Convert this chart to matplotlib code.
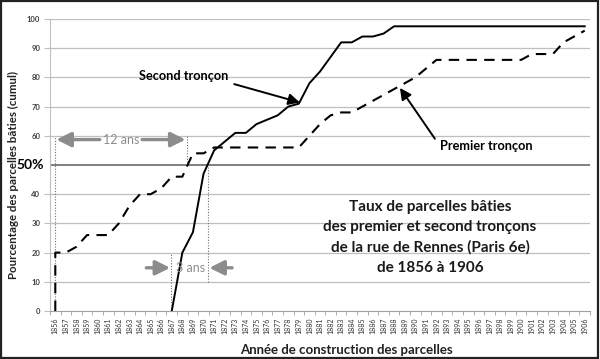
import matplotlib
matplotlib.use("Agg")
import matplotlib.pyplot as plt
from matplotlib.patches import Rectangle

# ---- data ----
years = list(range(1856, 1907))

premier_years = [1856] + years
premier_vals = [0,
                20, 20, 22, 26, 26, 26, 30, 36, 40, 40,      # 1856-1865
                42, 46, 46, 54, 54, 56, 56, 56, 56, 56,      # 1866-1875
                56, 56, 56, 56, 60, 64, 67, 68, 68, 70,      # 1876-1885
                72, 74, 76, 78, 80, 83, 86, 86, 86, 86,      # 1886-1895
                86, 86, 86, 86, 86, 88, 88, 88, 92, 94,      # 1896-1905
                96]                                          # 1906

second_years = list(range(1867, 1907))
second_vals = [0, 20, 27,                                    # 1867-1869
               47, 55, 58, 61, 61, 64, 65.5, 67, 70, 71,     # 1870-1879
               78, 82, 87, 92, 92, 94, 94, 95, 97.5, 97.5,   # 1880-1889
               97.5, 97.5, 97.5, 97.5, 97.5, 97.5, 97.5, 97.5, 97.5, 97.5,  # 1890-1899
               97.5, 97.5, 97.5, 97.5, 97.5, 97.5, 97.5]     # 1900-1906

y_ticks = [0, 10, 20, 30, 40, 60, 70, 80, 90, 100]
title_lines = ["Taux de parcelles bâties",
               "des premier et second tronçons",
               "de la rue de Rennes (Paris 6e)",
               "de 1856 à 1906"]

FONT = ["Lato", "DejaVu Sans"]
plt.rcParams['font.family'] = FONT

fig = plt.figure(figsize=(6.0, 3.59), dpi=100)
ax = fig.add_axes([50/600, 1 - 311/359, 540/600, 292/359])
ax.set_xlim(1855.5, 1906.5)
ax.set_ylim(0, 100)

# grid
for v in range(10, 101, 10):
    if v == 50:
        ax.axhline(v, color="#7f7f7f", lw=1.4, zorder=1)
    else:
        ax.axhline(v, color="#bfbfbf", lw=0.9, zorder=1)

# series
ax.plot(premier_years, premier_vals, color="black", lw=1.5,
        linestyle=(0, (5, 3.5)), zorder=3)
ax.plot(second_years, second_vals, color="black", lw=1.4, zorder=3)

# spines & ticks
for s in ["top", "right"]:
    ax.spines[s].set_visible(False)
ax.spines["left"].set_color("#bfbfbf")
ax.spines["bottom"].set_color("#a0a0a0")
ax.set_yticks(y_ticks)
ax.set_yticklabels([str(v) for v in y_ticks], fontsize=5.5, fontweight="bold",
                   color="#404040")
ax.tick_params(axis="y", length=4, color="#bfbfbf", pad=3)
ax.set_xticks(years)
ax.set_xticklabels([str(y) for y in years], rotation=90, fontsize=5,
                   color="#333333")
ax.set_xticks([y + 0.5 for y in [1855] + years], minor=True)
ax.tick_params(axis="x", which="major", length=0, pad=5)
ax.tick_params(axis="x", which="minor", length=3, color="#a0a0a0")

ax.text(-0.012, 50, "50%", transform=ax.get_yaxis_transform(), ha="right",
        va="center", fontsize=10, fontweight="bold", color="black")

fig.text(13/600, 1 - 175/359, "Pourcentage des parcelles bâties (cumul)",
         rotation=90, ha="center", va="center", fontsize=8.3,
         fontweight="bold", color="#222222")
fig.text(346/600, 1 - 350/359, "Année de construction des parcelles",
         ha="center", va="center", fontsize=9.5, fontweight="bold", color="#222222")

# title block
for i, line in enumerate(title_lines):
    fig.text(430/600, 1 - (207 + 20.2*i)/359, line, ha="center", va="center",
             fontsize=11, fontweight="bold", color="#1a1a1a")

# series labels with arrows
ax.text(1868.1, 80.5, "Second tronçon", ha="center", va="center",
        fontsize=9.2, fontweight="bold")
ax.annotate("", xy=(1879.1, 71.4), xytext=(1872.9, 77.7),
            arrowprops=dict(arrowstyle="-|>", color="black", lw=1.4,
                            mutation_scale=17, shrinkA=0, shrinkB=0))
ax.text(1896.7, 56.5, "Premier tronçon", ha="center", va="center",
        fontsize=9.2, fontweight="bold")
ax.annotate("", xy=(1888.55, 76.4), xytext=(1891.85, 59.0),
            arrowprops=dict(arrowstyle="-|>", color="black", lw=1.4,
                            mutation_scale=17, shrinkA=0, shrinkB=0))

gray = "#8c8c8c"
# 12 ans
ax.plot([1856, 1856], [0, 60], color="#707070", lw=0.8, linestyle=(0, (1, 1.5)), zorder=2)
ax.plot([1868.4, 1868.4], [50, 60], color="#707070", lw=0.8, linestyle=(0, (1, 1.5)), zorder=2)
ax.text(1862.2, 58.7, "12 ans", ha="center", va="center", fontsize=9, color=gray)
ax.annotate("", xy=(1856.1, 58.7), xytext=(1860.2, 58.7),
            arrowprops=dict(arrowstyle="-|>", color=gray, lw=2.4, mutation_scale=22,
                            shrinkA=0, shrinkB=0))
ax.annotate("", xy=(1868.3, 58.7), xytext=(1864.2, 58.7),
            arrowprops=dict(arrowstyle="-|>", color=gray, lw=2.4, mutation_scale=22,
                            shrinkA=0, shrinkB=0))
# 3 ans
ax.plot([1866.9, 1866.9], [0, 20], color="#707070", lw=0.8, linestyle=(0, (1, 1.5)), zorder=2)
ax.plot([1870.45, 1870.45], [10, 50], color="#707070", lw=0.8, linestyle=(0, (1, 1.5)), zorder=2)
ax.text(1868.8, 14.8, "3 ans", ha="center", va="center", fontsize=9, color=gray, zorder=4)
ax.annotate("", xy=(1866.85, 14.8), xytext=(1864.6, 14.8),
            arrowprops=dict(arrowstyle="-|>", color=gray, lw=2.4, mutation_scale=22,
                            shrinkA=0, shrinkB=0))
ax.annotate("", xy=(1870.55, 14.8), xytext=(1872.7, 14.8),
            arrowprops=dict(arrowstyle="-|>", color=gray, lw=2.4, mutation_scale=22,
                            shrinkA=0, shrinkB=0))

# figure border
fig.patches.append(Rectangle((0.002, 0.003), 0.994, 0.994, transform=fig.transFigure,
                             fill=False, edgecolor="#222222", lw=1.6))

fig.savefig("out.png", dpi=100)
